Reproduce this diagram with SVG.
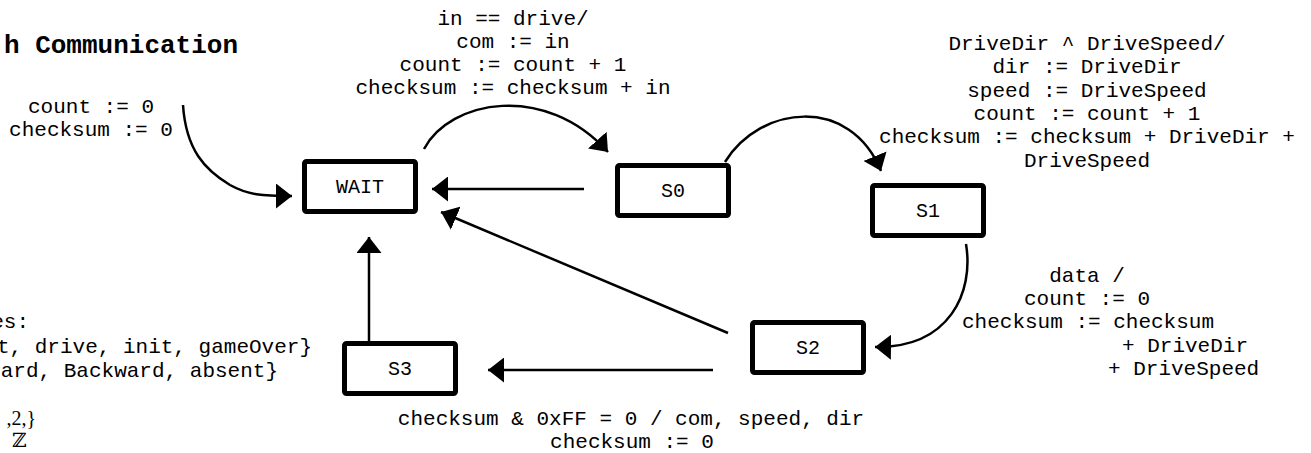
<svg xmlns="http://www.w3.org/2000/svg" width="1311" height="453" viewBox="0 0 1311 453">
  <style>
    .t { font-family: "Liberation Mono", "Courier New", monospace; font-size: 21px; fill: #000; }
    .title { font-family: "Liberation Mono", "Courier New", monospace; font-size: 26px; font-weight: bold; fill: #000; }
    .serif { font-family: "Liberation Serif", "DejaVu Serif", serif; font-size: 20px; fill: #000; }
    .box { fill: #fff; stroke: #000; stroke-width: 5; }
    .lbl { font-family: "Liberation Mono", "Courier New", monospace; font-size: 20px; fill: #000; text-anchor: middle; }
    .edge { fill: none; stroke: #000; stroke-width: 2.5; marker-end: url(#arrow); }
    .m { text-anchor: middle; }
    .e { text-anchor: end; }
  </style>
  <defs>
    <marker id="arrow" markerUnits="userSpaceOnUse" markerWidth="17" markerHeight="25" refX="16" refY="12.5" orient="auto">
      <path d="M0,0 L16,12.5 L0,25 z" fill="#000"/>
    </marker>
  </defs>
  <rect width="1311" height="453" fill="#fff"/>

  <!-- heading and declarations -->
  <text class="title e" x="238" y="53">h Communication</text>
  <g id="declarations">
    <text class="t e" x="29" y="328">es:</text>
    <text class="t e" x="312" y="353">t, drive, init, gameOver}</text>
    <text class="t e" x="278" y="377">ard, Backward, absent}</text>
    <text class="serif e" x="36" y="425">,2,}</text>
    <text class="serif" x="12" y="447">ℤ</text>
  </g>

  <!-- transitions -->
  <g id="connectors">
    <path class="edge" d="M183,105 C186,150 205,170 230,185 C248,195 262,196 292,196"/>
    <path class="edge" d="M424,149 C450,100 545,82 608,152"/>
    <path class="edge" d="M725,162 C760,105 850,95 881,171"/>
    <path class="edge" d="M966,244 C974,292 950,348 875,347"/>
    <line class="edge" x1="584" y1="189" x2="432" y2="189"/>
    <line class="edge" x1="728" y1="333" x2="441" y2="212"/>
    <line class="edge" x1="713" y1="370" x2="488" y2="370"/>
    <line class="edge" x1="369" y1="345" x2="369" y2="237"/>
  </g>

  <!-- transition labels -->
  <g id="labels">
    <text class="t m" x="91" y="113">count := 0</text>
    <text class="t m" x="91" y="136">checksum := 0</text>

    <text class="t m" x="513" y="25">in == drive/</text>
    <text class="t m" x="513" y="48">com := in</text>
    <text class="t m" x="513" y="71">count := count + 1</text>
    <text class="t m" x="513" y="94">checksum := checksum + in</text>

    <text class="t m" x="1087" y="50">DriveDir ^ DriveSpeed/</text>
    <text class="t m" x="1087" y="73">dir := DriveDir</text>
    <text class="t m" x="1087" y="97">speed := DriveSpeed</text>
    <text class="t m" x="1087" y="120">count := count + 1</text>
    <text class="t m" x="1087" y="143">checksum := checksum + DriveDir +</text>
    <text class="t m" x="1087" y="167">DriveSpeed</text>

    <text class="t m" x="1087" y="282">data /</text>
    <text class="t m" x="1087" y="305">count := 0</text>
    <text class="t m" x="1088" y="328">checksum := checksum</text>
    <text class="t" x="1122" y="352">+ DriveDir</text>
    <text class="t" x="1108" y="375">+ DriveSpeed</text>

    <text class="t m" x="631" y="425">checksum &amp; 0xFF = 0 / com, speed, dir</text>
    <text class="t m" x="632" y="448">checksum := 0</text>
  </g>

  <!-- states -->
  <g id="WAIT">
    <rect class="box" x="304.5" y="161.5" width="111" height="50" rx="2"/>
    <text class="lbl" x="360" y="193">WAIT</text>
  </g>
  <g id="S0">
    <rect class="box" x="617.5" y="165.5" width="111" height="50" rx="2"/>
    <text class="lbl" x="673" y="197">S0</text>
  </g>
  <g id="S1">
    <rect class="box" x="872.5" y="185.5" width="111" height="50" rx="2"/>
    <text class="lbl" x="928" y="217">S1</text>
  </g>
  <g id="S2">
    <rect class="box" x="752.5" y="322.5" width="111" height="50" rx="2"/>
    <text class="lbl" x="808" y="354">S2</text>
  </g>
  <g id="S3">
    <rect class="box" x="344.5" y="343.5" width="111" height="50" rx="2"/>
    <text class="lbl" x="400" y="375">S3</text>
  </g>
</svg>
